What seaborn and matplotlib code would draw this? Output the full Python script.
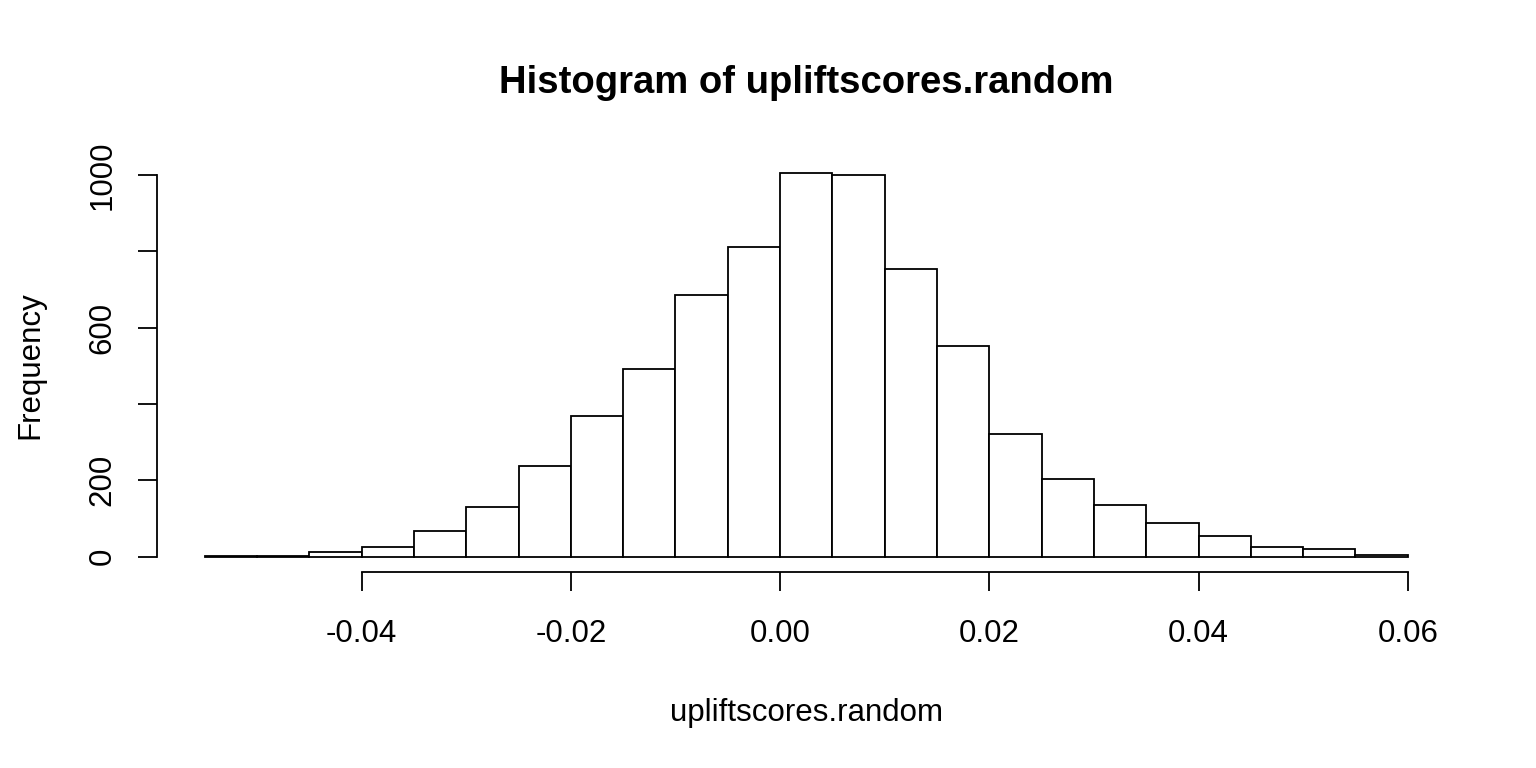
import numpy as np
import matplotlib
matplotlib.use("Agg")
import matplotlib.pyplot as plt
import seaborn as sns

# bin breaks and counts
breaks = [-0.055, -0.050, -0.045, -0.040, -0.035, -0.030, -0.025, -0.020,
          -0.015, -0.010, -0.005, 0.000, 0.005, 0.010, 0.015, 0.020,
          0.025, 0.030, 0.035, 0.040, 0.045, 0.050, 0.055, 0.060]
counts = [1, 2, 13, 26, 67, 129, 238, 368, 492, 686, 811, 1006,
          1001, 754, 553, 321, 203, 136, 87, 54, 24, 20, 4]

xticks = [-0.04, -0.02, 0.00, 0.02, 0.04, 0.06]
xtick_labels = ["-0.04", "-0.02", "0.00", "0.02", "0.04", "0.06"]
yticks = [0, 200, 400, 600, 800, 1000]
ytick_labels = ["0", "200", "", "600", "", "1000"]

sns.set_style("white")
plt.rcParams['font.family'] = ['Liberation Sans', 'DejaVu Sans']
plt.rcParams['axes.unicode_minus'] = False
plt.rcParams['text.color'] = 'black'
plt.rcParams['axes.labelcolor'] = 'black'
plt.rcParams['xtick.color'] = 'black'
plt.rcParams['ytick.color'] = 'black'

mids = [(a + b) / 2 for a, b in zip(breaks[:-1], breaks[1:])]

fig = plt.figure(figsize=(15.36, 7.68), dpi=100)
ax = fig.add_axes([0.1020, 0.2552, 0.8458, 0.5398])

sns.histplot(x=mids, weights=counts, bins=breaks, stat="count",
             color="white", edgecolor="black", linewidth=1.3, alpha=1, ax=ax)

ax.set_xlim(-0.0596, 0.0646)
ax.set_ylim(-40.24, 1046.24)

for s in ["top", "right"]:
    ax.spines[s].set_visible(False)
ax.spines["left"].set_bounds(0, 1000)
ax.spines["bottom"].set_bounds(-0.04, 0.06)
for s in ["left", "bottom"]:
    ax.spines[s].set_linewidth(1.3)
    ax.spines[s].set_color("black")

ax.set_xticks(xticks)
ax.set_xticklabels(xtick_labels)
ax.set_yticks(yticks)
ax.set_yticklabels(ytick_labels, rotation=90, va="center")
ax.tick_params(axis="both", direction="out", length=14, width=1.3,
               color="black", labelcolor="black", labelsize=22.5,
               left=True, bottom=True)
ax.tick_params(axis="x", pad=20)
ax.tick_params(axis="y", pad=14)

ax.set_xlabel("upliftscores.random", fontsize=22.5, color="black")
ax.set_ylabel("Frequency", fontsize=22.5, color="black")
ax.xaxis.set_label_coords(0.5, -0.304)
ax.yaxis.set_label_coords(-0.0859, 0.5)
ax.set_title("Histogram of upliftscores.random", fontsize=27.5,
             fontweight="bold", color="black", y=1.156, pad=0)

fig.savefig("out.png", dpi=100, facecolor="white")
